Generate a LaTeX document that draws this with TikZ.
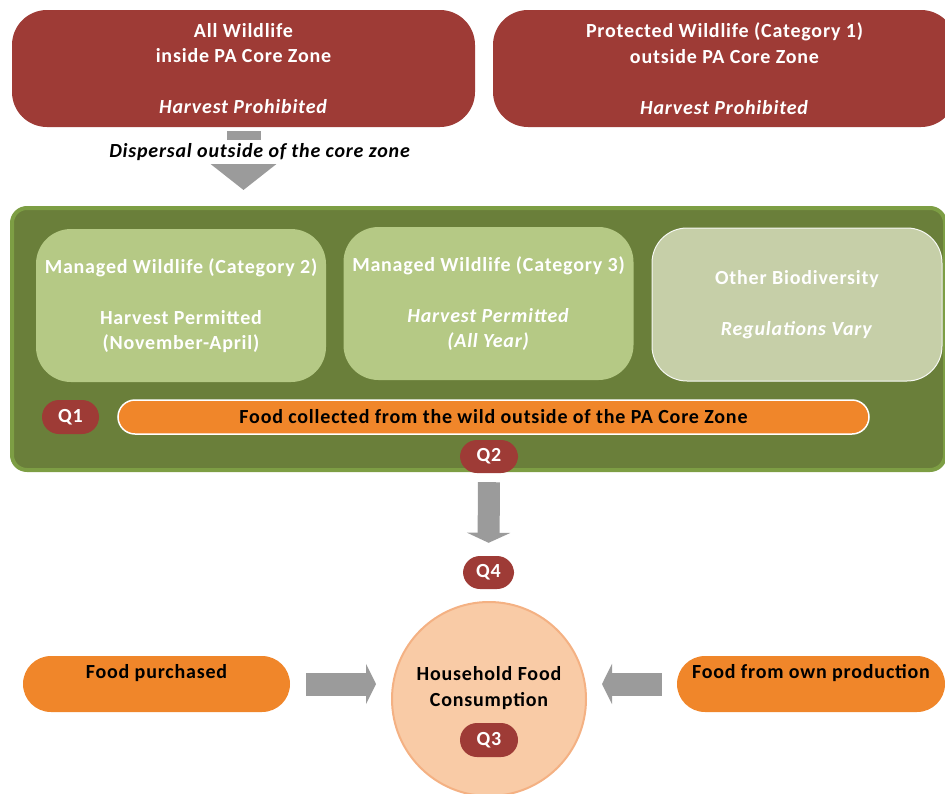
\documentclass[tikz,border=0pt]{standalone}
\usepackage{fontspec}
\setmainfont{Carlito}[LetterSpace=4]
\usetikzlibrary{arrows.meta}

\definecolor{brick}{RGB}{158,59,54}
\definecolor{olive}{RGB}{106,127,58}
\definecolor{oliveedge}{RGB}{125,158,68}
\definecolor{sage}{RGB}{181,201,133}
\definecolor{mist}{RGB}{198,207,168}
\definecolor{tangerine}{RGB}{240,134,42}
\definecolor{peach}{RGB}{249,203,166}
\definecolor{peachedge}{RGB}{244,177,131}
\definecolor{arrowgray}{RGB}{155,155,155}

\begin{document}
\begin{tikzpicture}[
      x=1pt, y=-1pt,
      every node/.style={font=\bfseries\fontsize{20}{25.5}\selectfont,
        align=center, inner sep=0pt},
      redbox/.style={fill=brick, text=white, rounded corners=35pt,
        minimum width=463pt, minimum height=117pt},
      greenbox/.style={fill=sage, text=white, rounded corners=35pt,
        minimum width=290pt, minimum height=153pt},
      qpill/.style={fill=brick, text=white, rounded corners=17pt,
        minimum width=58pt, minimum height=34pt},
      foodpill/.style={fill=tangerine, text=black, rounded corners=28pt,
        minimum height=56pt},
      blockarrow/.style={draw=arrowgray, line width=#1}]
    \useasboundingbox (0,0) rectangle (945,793);

    \node [redbox] (core) at (243.5, 68.5)
      {All Wildlife\\inside PA Core Zone\\\mbox{}\\\textit{Harvest Prohibited}};
    \node [redbox] (prot) at (724.5, 68.5)
      {Protected Wildlife (Category 1)\\outside PA Core Zone\\\mbox{}\\\textit{Harvest Prohibited}};

    \node [fill=olive, draw=oliveedge, line width=4pt, rounded corners=15pt,
      minimum width=933pt, minimum height=262pt] (zone) at (478.5, 339) {};

    \node [greenbox] (cat2) at (181, 305.5)
      {Managed Wildlife (Category 2)\\\mbox{}\\Harvest Permitted\\(November-April)};
    \node [greenbox] (cat3) at (488.5, 303.5)
      {Managed Wildlife (Category 3)\\\mbox{}\\\textit{Harvest Permitted}\\\textit{(All Year)}};
    \node [greenbox, fill=mist, draw=white!85!mist, line width=1pt] (other) at (797, 304.5)
      {Other Biodiversity\\\mbox{}\\\textit{Regulations Vary}};

    \node [qpill, minimum width=57pt] (q1) at (70.5, 417) {Q1};
    \node [foodpill, draw=white, line width=1.5pt, rounded corners=17pt,
      minimum width=751pt, minimum height=34pt] (wild) at (493.5, 417)
      {Food collected from the wild outside of the PA Core Zone};
    \node [qpill, minimum height=33pt] (q2) at (489, 456.5) {Q2};

    \node [qpill, minimum width=51pt, minimum height=33pt] (q4) at (488.5, 572.5) {Q4};
    \node [circle, fill=peach, draw=peachedge, line width=2pt,
      minimum size=194pt] (hh) at (489, 699)
      {Household Food\\Consumption\\\mbox{}};
    \node [qpill] (q3) at (489, 740) {Q3};

    \node [foodpill, minimum width=267pt] (buy) at (156.5, 684)
      {Food purchased\\\mbox{}};
    \node [foodpill, minimum width=268pt] (own) at (811, 684)
      {Food from own production\\\mbox{}};

    % block arrows
    \draw [blockarrow=34pt, -{Triangle[length=27pt, width=67pt]},
      shorten <=4pt, shorten >=16pt] (core.south) -- (core.south |- zone.north);
    \node [fill=white, inner ysep=3pt] (disp) at (260, 152)
      {\textit{Dispersal outside of the core zone}};

    \draw [blockarrow=22pt, -{Triangle[length=10pt, width=43pt]},
      shorten <=9pt, shorten >=13pt] (q2.south) -- (q4.north);
    \draw [blockarrow=23pt, -{Triangle[length=10pt, width=40pt]},
      shorten <=16pt, shorten >=15pt] (buy.east) -- (buy.east -| hh.west);
    \draw [blockarrow=23pt, -{Triangle[length=10pt, width=40pt]},
      shorten <=15pt, shorten >=15pt] (own.west) -- (own.west -| hh.east);

  \end{tikzpicture}
\end{document}
